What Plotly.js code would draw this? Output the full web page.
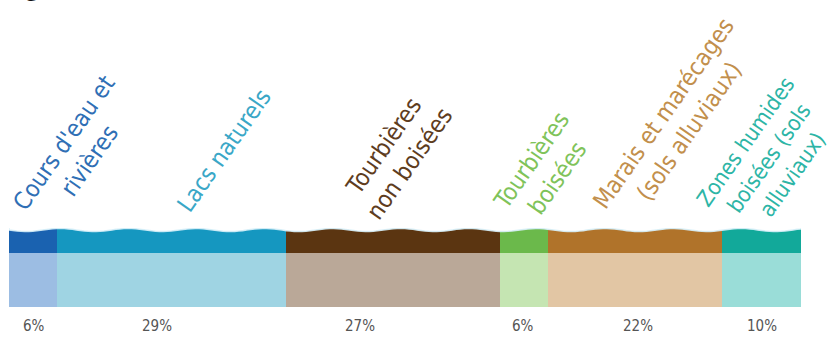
<!DOCTYPE html>
<html>
<head>
<meta charset="utf-8">
<script src="https://cdn.plot.ly/plotly-3.0.1.min.js"></script>
<style>html,body{margin:0;padding:0;background:#fff;}#chart{width:838px;height:338px;}</style>
</head>
<body>
<div id="chart"></div>
<script>
// ---- data ----
const categories = ["Cours d'eau et<br>rivières", "Lacs naturels", "Tourbières<br>non boisées", "Tourbières<br>boisées", "Marais et marécages<br>(sols alluviaux)", "Zones humides<br>boisées (sols<br>alluviaux)"];
const shares = [6, 29, 27, 6, 22, 10];
const shareLabels = ["6%", "29%", "27%", "6%", "22%", "10%"];

// ---- styles ----
const darkColors  = ["#1a62b0", "#1597c0", "#5b3511", "#6bb94b", "#b0732a", "#12a99a"];
const lightColors = ["#9cbde3", "#9fd4e3", "#baa898", "#c5e5b2", "#e2c6a4", "#9addd8"];
const labelColors = ["#2f6fb5", "#3aa7c7", "#5e3d1e", "#7fc35a", "#c28f4c", "#2db5a6"];
const FONT = "'DejaVu Sans Condensed', 'Liberation Sans Narrow', sans-serif";

const W = 838, H = 338;
const M = {l: 9, r: 37, t: 228, b: 31};
const plotH = H - M.t - M.b;
const pxToPaperY = py => (H - M.b - py) / plotH;
const pxToPaperX = px => (px - M.l) / (W - M.l - M.r);

// label centre pixel positions (layout only)
const labelCentres = [[76,152],[224,151],[396,155],[544,169],[676,122],[769,158]];
const labelSizes = [24, 24, 24, 24, 24, 22];
const pctPx = [34, 157, 360, 523, 638, 762];

const traces = [];
categories.forEach((c, i) => {
  traces.push({type: 'bar', orientation: 'h', x: [shares[i]], y: [27], width: [54],
    marker: {color: lightColors[i], line: {width: 0}}, hoverinfo: 'skip', showlegend: false});
});
categories.forEach((c, i) => {
  traces.push({type: 'bar', orientation: 'h', x: [shares[i]], y: [66.5], width: [25.5],
    marker: {color: darkColors[i], line: {width: 0}}, hoverinfo: 'skip', showlegend: false});
});

const annotations = [];
categories.forEach((c, i) => {
  annotations.push({text: c, xref: 'paper', yref: 'paper',
    x: pxToPaperX(labelCentres[i][0]), y: pxToPaperY(labelCentres[i][1]),
    xanchor: 'center', yanchor: 'middle', textangle: -55, showarrow: false, align: 'center',
    font: {family: FONT, size: labelSizes[i], color: labelColors[i]}});
  annotations.push({text: shareLabels[i], xref: 'paper', yref: 'paper',
    x: pxToPaperX(pctPx[i]), y: pxToPaperY(326),
    xanchor: 'center', yanchor: 'middle', showarrow: false,
    font: {family: FONT, size: 15, color: '#555555'}});
});
annotations.push({text: '(Figure)', xref: 'paper', yref: 'paper', x: pxToPaperX(-2), y: pxToPaperY(-14),
  xanchor: 'left', yanchor: 'middle', showarrow: false,
  font: {family: "'Open Sans', sans-serif", size: 24, color: '#111'}});

// decorative wavy top edge
let path = 'M 0,80';
for (let k = 0; k <= 200; k++) {
  const xv = k * 0.5;
  const yv = 77 - 1.5 * Math.sin(2 * Math.PI * xv / 8.6);
  path += ' L ' + xv.toFixed(2) + ',' + yv.toFixed(2);
}
path += ' L 100,80 Z';

const layout = {
  width: W, height: H, margin: M,
  paper_bgcolor: '#fff', plot_bgcolor: '#fff',
  barmode: 'stack', showlegend: false,
  xaxis: {range: [0, 100], visible: false, fixedrange: true},
  yaxis: {range: [0, 79], visible: false, fixedrange: true},
  annotations: annotations,
  shapes: [{type: 'path', path: path, xref: 'x', yref: 'y', fillcolor: '#ffffff',
    line: {color: 'rgba(215,240,248,0.9)', width: 1.5}, layer: 'above'}]
};

Plotly.newPlot('chart', traces, layout, {displayModeBar: false, staticPlot: true});
</script>
</body>
</html>
